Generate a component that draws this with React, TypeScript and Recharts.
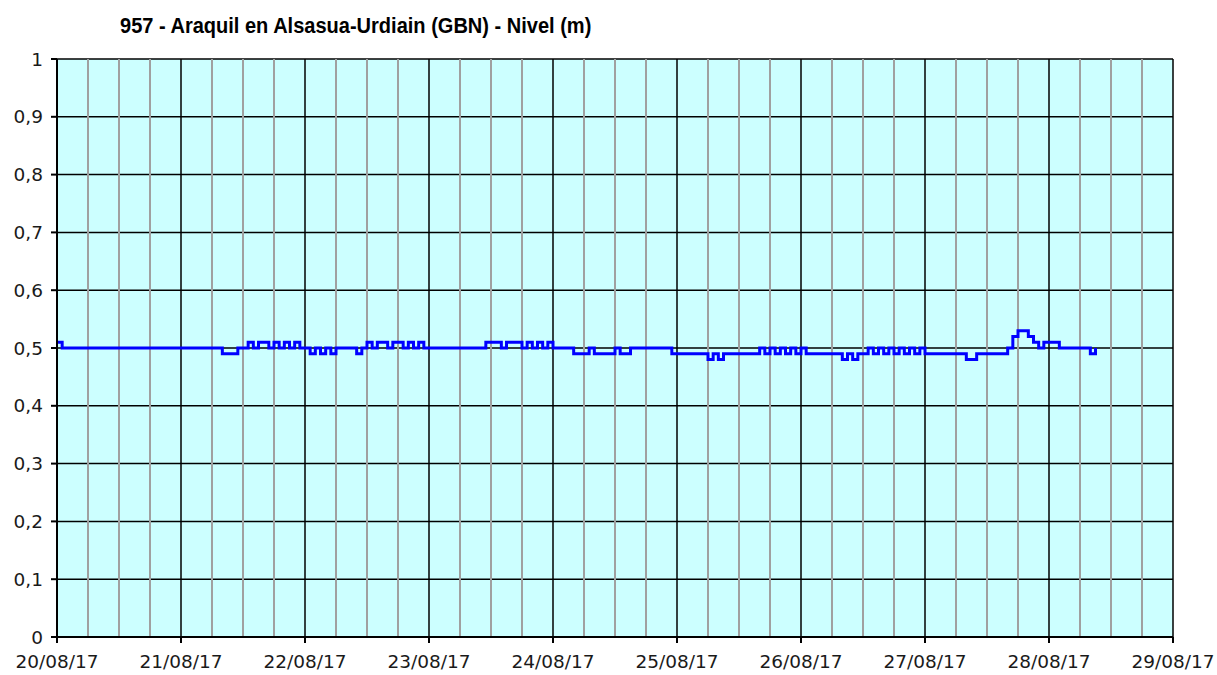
import React from "react";
import {
  LineChart,
  Line,
  XAxis,
  YAxis,
  CartesianGrid,
  ReferenceLine,
} from "recharts";

// hourly level readings (m), one array per day starting 20/08/17 00:00
const day20 = [0.51, 0.5, 0.5, 0.5, 0.5, 0.5, 0.5, 0.5, 0.5, 0.5, 0.5, 0.5, 0.5, 0.5, 0.5, 0.5, 0.5, 0.5, 0.5, 0.5, 0.5, 0.5, 0.5, 0.5];
const day21 = [0.5, 0.5, 0.5, 0.5, 0.5, 0.5, 0.5, 0.5, 0.49, 0.49, 0.49, 0.5, 0.5, 0.51, 0.5, 0.51, 0.51, 0.5, 0.51, 0.5, 0.51, 0.5, 0.51, 0.5];
const day22 = [0.5, 0.49, 0.5, 0.49, 0.5, 0.49, 0.5, 0.5, 0.5, 0.5, 0.49, 0.5, 0.51, 0.5, 0.51, 0.51, 0.5, 0.51, 0.51, 0.5, 0.51, 0.5, 0.51, 0.5];
const day23 = [0.5, 0.5, 0.5, 0.5, 0.5, 0.5, 0.5, 0.5, 0.5, 0.5, 0.5, 0.51, 0.51, 0.51, 0.5, 0.51, 0.51, 0.51, 0.5, 0.51, 0.5, 0.51, 0.5, 0.51];
const day24 = [0.5, 0.5, 0.5, 0.5, 0.49, 0.49, 0.49, 0.5, 0.49, 0.49, 0.49, 0.49, 0.5, 0.49, 0.49, 0.5, 0.5, 0.5, 0.5, 0.5, 0.5, 0.5, 0.5, 0.49];
const day25 = [0.49, 0.49, 0.49, 0.49, 0.49, 0.49, 0.48, 0.49, 0.48, 0.49, 0.49, 0.49, 0.49, 0.49, 0.49, 0.49, 0.5, 0.49, 0.5, 0.49, 0.5, 0.49, 0.5, 0.49];
const day26 = [0.5, 0.49, 0.49, 0.49, 0.49, 0.49, 0.49, 0.49, 0.48, 0.49, 0.48, 0.49, 0.49, 0.5, 0.49, 0.5, 0.49, 0.5, 0.49, 0.5, 0.49, 0.5, 0.49, 0.5];
const day27 = [0.49, 0.49, 0.49, 0.49, 0.49, 0.49, 0.49, 0.49, 0.48, 0.48, 0.49, 0.49, 0.49, 0.49, 0.49, 0.49, 0.5, 0.52, 0.53, 0.53, 0.52, 0.51, 0.5, 0.51];
const day28 = [0.51, 0.51, 0.5, 0.5, 0.5, 0.5, 0.5, 0.5, 0.49, 0.5];

const dateLabels = ["20/08/17", "21/08/17", "22/08/17", "23/08/17", "24/08/17", "25/08/17", "26/08/17", "27/08/17", "28/08/17", "29/08/17"];
const yTicks = [0, 0.1, 0.2, 0.3, 0.4, 0.5, 0.6, 0.7, 0.8, 0.9, 1];

const levels = [...day20, ...day21, ...day22, ...day23, ...day24, ...day25, ...day26, ...day27, ...day28];
const data = levels.map((v, h) => ({ h, v }));

const dayTicks = dateLabels.map((_, i) => i * 24);
// 6-hour grey gridlines between the day lines
const quarterTicks: number[] = [];
for (let h = 6; h < 216; h += 6) if (h % 24 !== 0) quarterTicks.push(h);

const font = "'DejaVu Sans', Verdana, sans-serif";

export default function App() {
  return (
    <div style={{ position: "absolute", left: 0, top: 0, width: 1217, height: 675, background: "#fff" }}>
      <div
        style={{
          position: "absolute",
          left: 120,
          top: 13,
          fontFamily: "'Liberation Sans', Arial, sans-serif",
          fontWeight: "bold",
          fontSize: 22,
          color: "#000",
          whiteSpace: "nowrap",
          transform: "scaleX(0.91)",
          transformOrigin: "left top",
        }}
      >
        957 - Araquil en Alsasua-Urdiain (GBN) - Nivel (m)
      </div>
      <LineChart width={1217} height={675} data={data} margin={{ top: 59, right: 44, left: 7, bottom: 0 }}>
        <CartesianGrid fill="#ccffff" stroke="#000" strokeOpacity={1} strokeWidth={1.5} />
        {quarterTicks.map((h) => (
          <ReferenceLine key={h} x={h} stroke="#a0a0a0" strokeWidth={2} />
        ))}
        <XAxis
          dataKey="h"
          type="number"
          domain={[0, 216]}
          ticks={dayTicks}
          interval={0}
          tickFormatter={(v: number) => dateLabels[v / 24]}
          stroke="#000"
          strokeWidth={2}
          tickSize={6}
          tickMargin={12}
          height={38}
          tick={{ fill: "#1a1a1a", fontSize: 18.5, fontFamily: font }}
        />
        <YAxis
          domain={[0, 1]}
          ticks={yTicks}
          interval={0}
          tickFormatter={(v: number) => String(v).replace(".", ",")}
          stroke="#000"
          strokeWidth={2}
          tickSize={6}
          tickMargin={8}
          width={50}
          tick={{ fill: "#1a1a1a", fontSize: 18.5, fontFamily: font }}
        />
        <Line
          type="stepAfter"
          dataKey="v"
          stroke="#0000ff"
          strokeWidth={3}
          dot={false}
          isAnimationActive={false}
        />
      </LineChart>
    </div>
  );
}
